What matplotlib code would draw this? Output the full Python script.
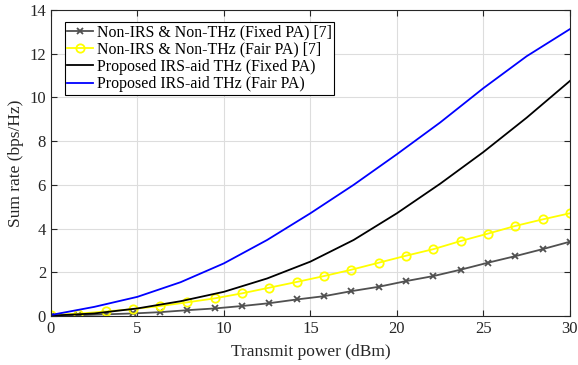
"""
Sum rate vs. transmit power
"""

import numpy as np
import matplotlib.pyplot as plt

plt.rcParams['font.family'] = ['Liberation Serif', 'DejaVu Serif']

# marker series (20 points from 0 to 30 dBm)
p_marker = [0.0, 1.58, 3.16, 4.74, 6.32, 7.89, 9.47, 11.05, 12.63, 14.21,
            15.79, 17.37, 18.95, 20.53, 22.11, 23.68, 25.26, 26.84, 28.42, 30.0]
fixed_base = [0.0, 0.04, 0.08, 0.12, 0.18, 0.27, 0.35, 0.46, 0.59, 0.76,
              0.91, 1.14, 1.34, 1.60, 1.83, 2.12, 2.44, 2.74, 3.06, 3.40]
fair_base = [0.05, 0.11, 0.21, 0.32, 0.46, 0.63, 0.81, 1.04, 1.30, 1.56,
             1.83, 2.12, 2.44, 2.76, 3.06, 3.43, 3.77, 4.12, 4.42, 4.70]

# proposed scheme curves
p_line = [0.0, 2.5, 5.0, 7.5, 10.0, 12.5, 15.0, 17.5, 20.0, 22.5, 25.0, 27.5, 30.0]
fixed_irs = [0.02, 0.12, 0.35, 0.68, 1.11, 1.72, 2.49, 3.48, 4.70, 6.05, 7.50, 9.07, 10.75]
fair_irs = [0.05, 0.42, 0.88, 1.55, 2.41, 3.48, 4.70, 6.00, 7.40, 8.85, 10.42, 11.88, 13.12]

labels = ["Non-IRS & Non-THz (Fixed PA) [7]",
          "Non-IRS & Non-THz (Fair PA) [7]",
          "Proposed IRS-aid THz (Fixed PA)",
          "Proposed IRS-aid THz (Fair PA)"]

if __name__ == "__main__":
    fig = plt.figure(figsize=(5.78, 3.65), dpi=100)
    ax = fig.add_axes([0.088, 0.134, 0.898, 0.839])

    ax.plot(p_marker, fixed_base, color='#505050', lw=1.3, marker='x',
            ms=4, mew=1.3, label=labels[0])
    ax.plot(p_marker, fair_base, color='#ffff00', lw=1.3, marker='o',
            ms=6, mfc='none', mew=1.3, label=labels[1])
    ax.plot(p_line, fixed_irs, color='black', lw=1.3, label=labels[2])
    ax.plot(p_line, fair_irs, color='#0000ff', lw=1.3, label=labels[3])

    ax.set_xlim(0, 30)
    ax.set_ylim(0, 14)
    ax.set_xticks(np.arange(0, 31, 5))
    ax.set_yticks(np.arange(0, 15, 2))
    ax.grid(True, color='#dddddd', lw=0.8)
    ax.set_axisbelow(True)
    ax.tick_params(direction='in', top=True, right=True, labelsize=12,
                   length=4, colors='#262626', labelcolor='#262626')
    for s in ax.spines.values():
        s.set_linewidth(0.8)
        s.set_color('#262626')
    ax.set_xlabel("Transmit power (dBm)", fontsize=12.5, labelpad=5, color='#262626')
    ax.set_ylabel("Sum rate (bps/Hz)", fontsize=12.5, labelpad=4, color='#262626')

    leg = ax.legend(loc='upper left', bbox_to_anchor=(0.027, 0.96), fontsize=11.4,
                    handlelength=1.65, handletextpad=0.2, borderpad=0.15,
                    labelspacing=0.08, fancybox=False, framealpha=1,
                    borderaxespad=0)
    leg.get_frame().set_edgecolor('black')
    leg.get_frame().set_linewidth(0.8)

    plt.savefig("out.png", dpi=100)
